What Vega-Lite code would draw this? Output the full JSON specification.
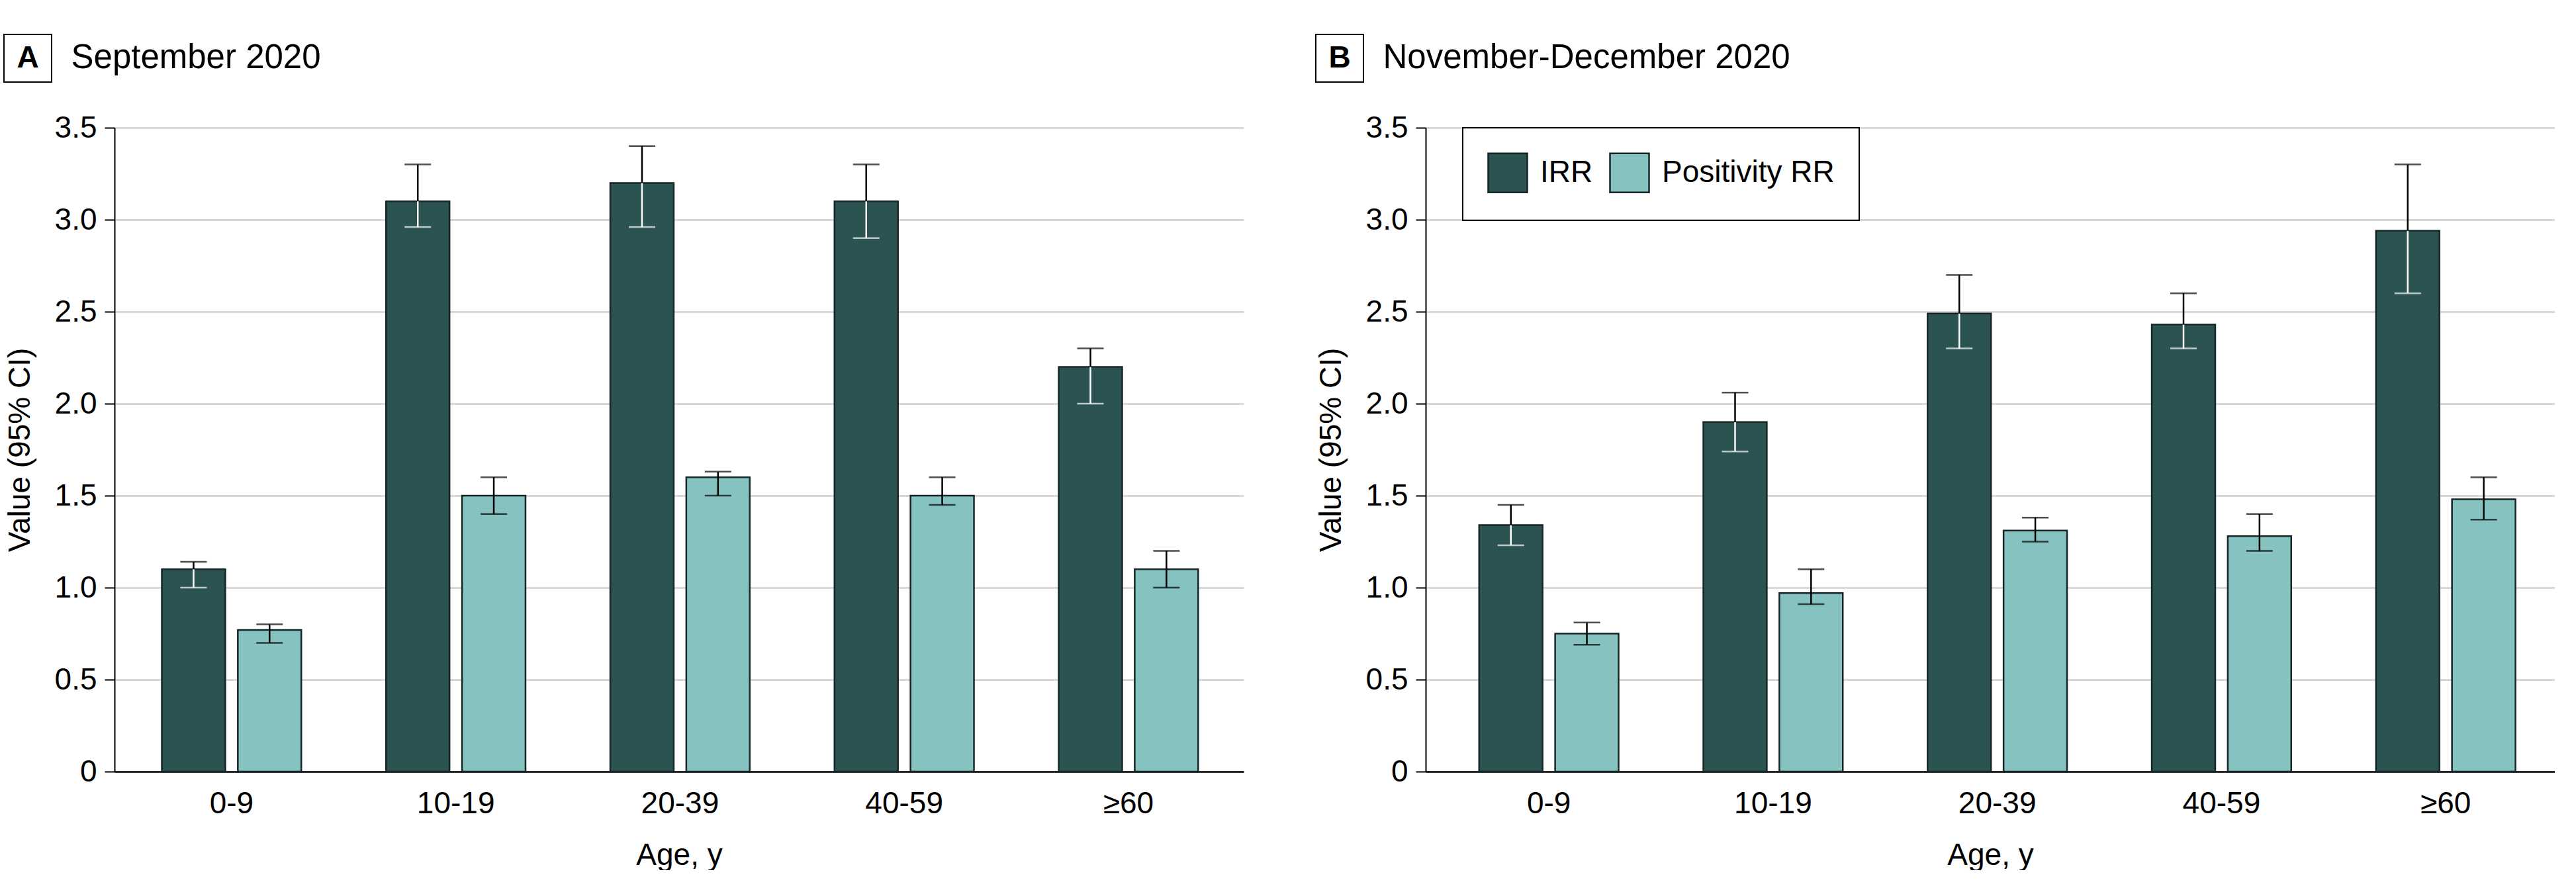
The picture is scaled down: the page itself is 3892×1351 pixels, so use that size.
{
  "$schema": "https://vega.github.io/schema/vega-lite/v6.json",
  "padding": {"left": 5, "top": 51, "right": 0, "bottom": 0},
  "background": "white",
  "datasets": {
    "sept": [
      {"age": "0-9", "series": "IRR", "value": 1.10, "lower": 1.00, "upper": 1.14},
      {"age": "0-9", "series": "Positivity RR", "value": 0.77, "lower": 0.70, "upper": 0.80},
      {"age": "10-19", "series": "IRR", "value": 3.10, "lower": 2.96, "upper": 3.30},
      {"age": "10-19", "series": "Positivity RR", "value": 1.50, "lower": 1.40, "upper": 1.60},
      {"age": "20-39", "series": "IRR", "value": 3.20, "lower": 2.96, "upper": 3.40},
      {"age": "20-39", "series": "Positivity RR", "value": 1.60, "lower": 1.50, "upper": 1.63},
      {"age": "40-59", "series": "IRR", "value": 3.10, "lower": 2.90, "upper": 3.30},
      {"age": "40-59", "series": "Positivity RR", "value": 1.50, "lower": 1.45, "upper": 1.60},
      {"age": "≥60", "series": "IRR", "value": 2.20, "lower": 2.00, "upper": 2.30},
      {"age": "≥60", "series": "Positivity RR", "value": 1.10, "lower": 1.00, "upper": 1.20}
    ],
    "novdec": [
      {"age": "0-9", "series": "IRR", "value": 1.34, "lower": 1.23, "upper": 1.45},
      {"age": "0-9", "series": "Positivity RR", "value": 0.75, "lower": 0.69, "upper": 0.81},
      {"age": "10-19", "series": "IRR", "value": 1.90, "lower": 1.74, "upper": 2.06},
      {"age": "10-19", "series": "Positivity RR", "value": 0.97, "lower": 0.91, "upper": 1.10},
      {"age": "20-39", "series": "IRR", "value": 2.49, "lower": 2.30, "upper": 2.70},
      {"age": "20-39", "series": "Positivity RR", "value": 1.31, "lower": 1.25, "upper": 1.38},
      {"age": "40-59", "series": "IRR", "value": 2.43, "lower": 2.30, "upper": 2.60},
      {"age": "40-59", "series": "Positivity RR", "value": 1.28, "lower": 1.20, "upper": 1.40},
      {"age": "≥60", "series": "IRR", "value": 2.94, "lower": 2.60, "upper": 3.30},
      {"age": "≥60", "series": "Positivity RR", "value": 1.48, "lower": 1.37, "upper": 1.60}
    ],
    "labA": [{"t": "A"}],
    "labB": [{"t": "B"}],
    "titA": [{"t": "September 2020"}],
    "titB": [{"t": "November-December 2020"}],
    "empty": []
  },
  "spacing": 45,
  "vconcat": [
    {
      "spacing": 28,
      "hconcat": [
        {
          "width": 72, "height": 72,
          "view": {"stroke": "black", "strokeWidth": 2},
          "data": {"name": "labA"},
          "mark": {"type": "text", "fontSize": 46, "fontWeight": "bold", "color": "black", "baseline": "middle", "align": "center"},
          "encoding": {"text": {"field": "t", "type": "nominal"}}
        },
        {
          "width": 1, "height": 72,
          "data": {"name": "titA"},
          "mark": {"type": "text", "fontSize": 51, "fontWeight": "normal", "color": "black", "baseline": "middle", "align": "left"},
          "encoding": {"text": {"field": "t", "type": "nominal"}}
        },
        {
          "width": 1446, "height": 72,
          "data": {"name": "empty"},
          "mark": {"type": "text"},
          "encoding": {}
        },
        {
          "width": 72, "height": 72,
          "view": {"stroke": "black", "strokeWidth": 2},
          "data": {"name": "labB"},
          "mark": {"type": "text", "fontSize": 46, "fontWeight": "bold", "color": "black", "baseline": "middle", "align": "center"},
          "encoding": {"text": {"field": "t", "type": "nominal"}}
        },
        {
          "width": 1, "height": 72,
          "data": {"name": "titB"},
          "mark": {"type": "text", "fontSize": 51, "fontWeight": "normal", "color": "black", "baseline": "middle", "align": "left"},
          "encoding": {"text": {"field": "t", "type": "nominal"}}
        }
      ]
    },
    {
      "spacing": 0,
      "resolve": {"scale": {"fill": "independent"}, "legend": {"fill": "independent"}},
      "hconcat": [
        {
          "width": 1, "height": 1,
          "data": {"name": "empty"},
          "mark": {"type": "text"},
          "encoding": {}
        },
        {
          "spacing": 109,
          "resolve": {"scale": {"fill": "independent"}, "legend": {"fill": "independent"}},
          "hconcat": [
            {
              "width": 1706, "height": 973,
              "data": {"name": "sept"},
              "encoding": {
                "x": {"field": "age", "type": "nominal", "sort": ["0-9", "10-19", "20-39", "40-59", "≥60"],
                      "scale": {"paddingInner": 0.378, "paddingOuter": 0.207, "align": 0.51},
                      "axis": {"title": "Age, y", "labelAngle": 0, "ticks": false, "tickSize": 0, "labelPadding": 26, "titlePadding": 33, "domainWidth": 2.5, "domainColor": "black", "grid": false}},
                "xOffset": {"field": "series", "type": "nominal", "sort": ["IRR", "Positivity RR"], "scale": {"paddingInner": 0.165, "paddingOuter": 0}}
              },
              "layer": [
                {
                  "mark": {"type": "bar", "stroke": "#162626", "strokeWidth": 2.5},
                  "encoding": {
                    "y": {"field": "value", "type": "quantitative", "title": "Value (95% CI)",
                          "scale": {"domain": [0, 3.5], "nice": false},
                          "axis": {"values": [0, 0.5, 1, 1.5, 2, 2.5, 3, 3.5], "labelExpr": "datum.value === 0 ? '0' : format(datum.value, '.1f')", "grid": true, "gridColor": "#d9d9d9", "gridWidth": 3, "domainWidth": 2, "domainColor": "black", "tickSize": 15, "tickWidth": 2, "tickColor": "black", "labelPadding": 12, "titlePadding": 28}},
                    "fill": {"field": "series", "type": "nominal", "scale": {"domain": ["IRR", "Positivity RR"], "range": ["#2B5352", "#86C2C0"]}, "legend": null}
                  }
                },
                {
                  "mark": {"type": "rule", "strokeWidth": 2.5},
                  "encoding": {
                    "y": {"field": "lower", "type": "quantitative", "title": "Value (95% CI)", "scale": {"domain": [0, 3.5], "nice": false}},
                    "y2": {"field": "value"},
                    "stroke": {"field": "series", "type": "nominal", "scale": {"domain": ["IRR", "Positivity RR"], "range": ["white", "black"]}, "legend": null}
                  }
                },
                {
                  "mark": {"type": "rule", "strokeWidth": 2.5, "color": "black"},
                  "encoding": {
                    "y": {"field": "value", "type": "quantitative", "title": "Value (95% CI)", "scale": {"domain": [0, 3.5], "nice": false}},
                    "y2": {"field": "upper"}
                  }
                },
                {
                  "mark": {"type": "tick", "orient": "horizontal", "size": 40, "thickness": 2.5, "color": "black"},
                  "encoding": {
                    "y": {"field": "upper", "type": "quantitative", "title": "Value (95% CI)", "scale": {"domain": [0, 3.5], "nice": false}}
                  }
                },
                {
                  "mark": {"type": "tick", "orient": "horizontal", "size": 40, "thickness": 2.5},
                  "encoding": {
                    "y": {"field": "lower", "type": "quantitative", "title": "Value (95% CI)", "scale": {"domain": [0, 3.5], "nice": false}},
                    "color": {"field": "series", "type": "nominal", "scale": {"domain": ["IRR", "Positivity RR"], "range": ["white", "black"]}, "legend": null}
                  }
                }
              ]
            },
            {
              "width": 1706, "height": 973,
              "data": {"name": "novdec"},
              "encoding": {
                "x": {"field": "age", "type": "nominal", "sort": ["0-9", "10-19", "20-39", "40-59", "≥60"],
                      "scale": {"paddingInner": 0.378, "paddingOuter": 0.207, "align": 0.576},
                      "axis": {"title": "Age, y", "labelAngle": 0, "ticks": false, "tickSize": 0, "labelPadding": 26, "titlePadding": 33, "domainWidth": 2.5, "domainColor": "black", "grid": false}},
                "xOffset": {"field": "series", "type": "nominal", "sort": ["IRR", "Positivity RR"], "scale": {"paddingInner": 0.165, "paddingOuter": 0}}
              },
              "layer": [
                {
                  "mark": {"type": "bar", "stroke": "#162626", "strokeWidth": 2.5},
                  "encoding": {
                    "y": {"field": "value", "type": "quantitative", "title": "Value (95% CI)",
                          "scale": {"domain": [0, 3.5], "nice": false},
                          "axis": {"values": [0, 0.5, 1, 1.5, 2, 2.5, 3, 3.5], "labelExpr": "datum.value === 0 ? '0' : format(datum.value, '.1f')", "grid": true, "gridColor": "#d9d9d9", "gridWidth": 3, "domainWidth": 2, "domainColor": "black", "tickSize": 15, "tickWidth": 2, "tickColor": "black", "labelPadding": 12, "titlePadding": 28}},
                    "fill": {"field": "series", "type": "nominal", "scale": {"domain": ["IRR", "Positivity RR"], "range": ["#2B5352", "#86C2C0"]},
                             "legend": {"title": null, "orient": "none", "legendX": 56, "legendY": 0, "direction": "horizontal", "symbolType": "square", "symbolSize": 3481, "symbolStrokeColor": "#162626", "symbolStrokeWidth": 2.5, "symbolOpacity": 1, "labelFontSize": 46, "labelColor": "black", "labelLimit": 800, "labelOffset": 18, "columnPadding": 20, "padding": 37, "strokeColor": "black"}}
                  }
                },
                {
                  "mark": {"type": "rule", "strokeWidth": 2.5},
                  "encoding": {
                    "y": {"field": "lower", "type": "quantitative", "title": "Value (95% CI)", "scale": {"domain": [0, 3.5], "nice": false}},
                    "y2": {"field": "value"},
                    "stroke": {"field": "series", "type": "nominal", "scale": {"domain": ["IRR", "Positivity RR"], "range": ["white", "black"]}, "legend": null}
                  }
                },
                {
                  "mark": {"type": "rule", "strokeWidth": 2.5, "color": "black"},
                  "encoding": {
                    "y": {"field": "value", "type": "quantitative", "title": "Value (95% CI)", "scale": {"domain": [0, 3.5], "nice": false}},
                    "y2": {"field": "upper"}
                  }
                },
                {
                  "mark": {"type": "tick", "orient": "horizontal", "size": 40, "thickness": 2.5, "color": "black"},
                  "encoding": {
                    "y": {"field": "upper", "type": "quantitative", "title": "Value (95% CI)", "scale": {"domain": [0, 3.5], "nice": false}}
                  }
                },
                {
                  "mark": {"type": "tick", "orient": "horizontal", "size": 40, "thickness": 2.5},
                  "encoding": {
                    "y": {"field": "lower", "type": "quantitative", "title": "Value (95% CI)", "scale": {"domain": [0, 3.5], "nice": false}},
                    "color": {"field": "series", "type": "nominal", "scale": {"domain": ["IRR", "Positivity RR"], "range": ["white", "black"]}, "legend": null}
                  }
                }
              ]
            }
          ]
        }
      ]
    }
  ],
  "config": {
    "font": "Liberation Sans",
    "view": {"stroke": null},
    "axis": {"labelFont": "Liberation Sans", "labelFontSize": 46, "labelColor": "black", "titleFont": "Liberation Sans", "titleFontSize": 46, "titleFontWeight": "normal", "titleColor": "black"},
    "legend": {"labelFont": "Liberation Sans", "strokeWidth": 2},
    "title": {"font": "Liberation Sans"}
  }
}
